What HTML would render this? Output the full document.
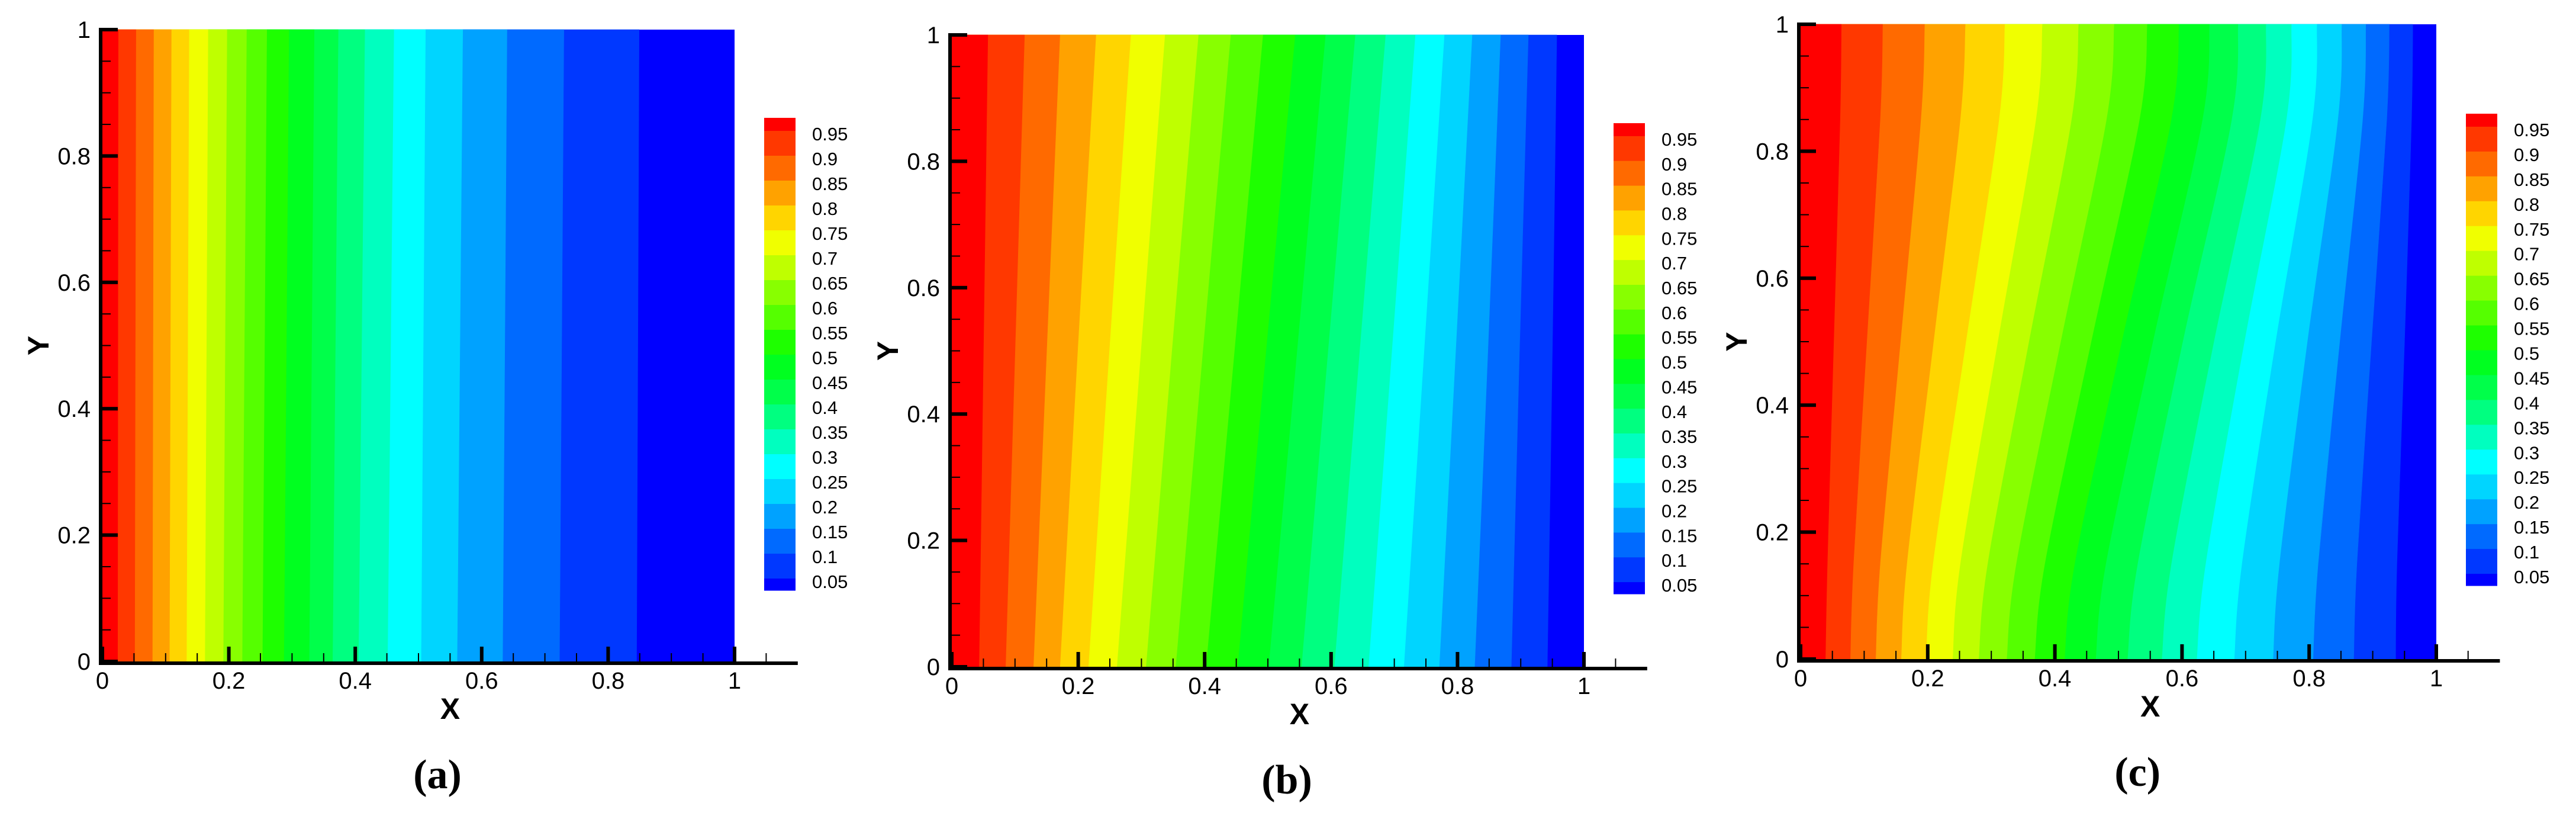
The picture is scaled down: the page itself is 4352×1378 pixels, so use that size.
<!DOCTYPE html>
<html><head><meta charset="utf-8">
<style>
html,body{margin:0;padding:0;background:#fff;}
svg{display:block;}
text{font-family:"Liberation Sans",sans-serif;}
</style></head>
<body>
<svg id="fig" width="4352" height="1378" viewBox="0 0 4352 1378" xmlns="http://www.w3.org/2000/svg"></svg>
<script>
// ---- data ----
const levelLabels = ["0.95","0.9","0.85","0.8","0.75","0.7","0.65","0.6","0.55","0.5","0.45","0.4","0.35","0.3","0.25","0.2","0.15","0.1","0.05"];
const bandColors = ["#ff0000","#ff3800","#ff6a00","#ffa200","#ffd500","#f0ff00","#bfff00","#88ff00","#55ff00","#1eff00","#00ff20","#00ff4a","#00ff80","#00ffbf","#00ffff","#00d5ff","#00a2ff","#006aff","#0038ff","#0000ff"];
const xTicks = [0,0.2,0.4,0.6,0.8,1];
const xTickLabels = ["0","0.2","0.4","0.6","0.8","1"];
const yTicks = [0,0.2,0.4,0.6,0.8,1];
const yTickLabels = ["0","0.2","0.4","0.6","0.8","1"];

// panel (a): contour boundary x positions at given y stations
const aY = [0,1];
const aBottom = [.024,.051,.079,.106,.133,.162,.191,.221,.253,.287,.327,.364,.405,.451,.504,.561,.633,.723,.845];
const aTop    = [.025,.053,.081,.109,.137,.167,.197,.228,.260,.295,.335,.373,.415,.461,.511,.570,.640,.730,.849];

// panel (b)
const bY = [0,0.5,1];
const bBottom = [.043,.085,.129,.171,.216,.261,.307,.354,.402,.452,.501,.553,.605,.659,.715,.771,.827,.885,.942];
const bMid    = [.050,.100,.150,.199,.249,.299,.348,.397,.447,.497,.546,.595,.645,.696,.747,.797,.848,.898,.950];
const bTop    = [.057,.115,.171,.228,.283,.337,.390,.441,.492,.543,.591,.638,.686,.733,.779,.823,.868,.912,.957];

// panel (c)
const cY = [0,0.15,0.5,0.85,1];
const cBottom = [.039,.078,.118,.158,.197,.239,.280,.324,.368,.415,.464,.514,.568,.623,.682,.743,.806,.870,.936];
const cLow    = [.042,.083,.125,.167,.208,.251,.294,.339,.384,.431,.480,.530,.583,.637,.694,.753,.814,.875,.938];
const cMid    = [.052,.104,.157,.209,.260,.310,.359,.409,.457,.505,.554,.601,.650,.698,.747,.797,.848,.898,.950];
const cHigh   = [.062,.125,.189,.251,.312,.370,.426,.481,.533,.583,.632,.678,.723,.764,.805,.845,.884,.922,.961];
const cTop    = [.064,.129,.195,.259,.321,.380,.437,.493,.545,.595,.643,.688,.732,.772,.812,.851,.889,.926,.963];

const panels = [
 {id:"a", L:173, T:50, W:1068, H:1067, cbX:1291, cbY:199, cbH:798, ys:aY, rows:[aBottom,aTop]},
 {id:"b", L:1608, T:59, W:1068, H:1067, cbX:2726, cbY:208, cbH:795, ys:bY, rows:[bBottom,bMid,bTop]},
 {id:"c", L:3042, T:41, W:1074, H:1072, cbX:4166, cbY:192, cbH:797, ys:cY, rows:[cBottom,cLow,cMid,cHigh,cTop]}
];

const NS = "http://www.w3.org/2000/svg";
const svg = document.getElementById("fig");
function mk(tag, attrs, parent){
  const e = document.createElementNS(NS, tag);
  for (const k in attrs) e.setAttribute(k, attrs[k]);
  parent.appendChild(e);
  return e;
}

panels.forEach(p => {
  const sx = v => p.L + v*p.W;
  const sy = v => p.T + p.H - v*p.H;
  const g = mk("g", {}, svg);
  
  

  const bg = mk("rect", {x:sx(0), y:sy(1), width:p.W, height:p.H, fill:bandColors[19]}, g);
  
  

  for (let i = 18; i >= 0; i--) {
    const pts = p.ys.map((yv, j) => [sx(p.rows[j][i]), sy(yv)]);
    let d = "M" + sx(0) + "," + sy(0) + " L" + pts[0][0] + "," + pts[0][1];
    for (let k = 0; k < pts.length - 1; k++) {
      const p0 = pts[Math.max(k-1,0)], p1 = pts[k], p2 = pts[k+1], p3 = pts[Math.min(k+2, pts.length-1)];
      const c1 = [p1[0] + (p2[0]-p0[0])/6, p1[1] + (p2[1]-p0[1])/6];
      const c2 = [p2[0] - (p3[0]-p1[0])/6, p2[1] - (p3[1]-p1[1])/6];
      d += " C" + c1[0] + "," + c1[1] + " " + c2[0] + "," + c2[1] + " " + p2[0] + "," + p2[1];
    }
    d += " L" + sx(0) + "," + sy(1) + " Z";
    const band = mk("path", {d:d, fill:bandColors[i], stroke:bandColors[i], "stroke-width":0.6}, g);
    
    
  }

  const xAxis = mk("rect", {x:p.L-6, y:sy(0), width:1.1*p.W+6, height:6, fill:"#000"}, g);
  
  
  const yAxis = mk("rect", {x:p.L-6, y:sy(1)-3, width:6, height:p.H+9, fill:"#000"}, g);
  
  

  for (let k = 1; k <= 21; k++) {
    const v = k*0.05;
    if (k % 4 === 0) continue;
    const t = mk("rect", {x:sx(v)-1, y:sy(0)-14, width:2, height:14, fill:"#000"}, g);
    
    
  }
  for (let k = 1; k < 20; k++) {
    if (k % 4 === 0) continue;
    const v = k*0.05;
    const t = mk("rect", {x:p.L, y:sy(v)-1, width:14, height:2, fill:"#000"}, g);
    
    
  }
  xTicks.forEach((v, k) => {
    const t = mk("rect", {x:sx(v)-3, y:sy(0)-25, width:6, height:25, fill:"#000"}, g);
    
    
    const tx = mk("text", {x:sx(v), y:sy(0)+46, "font-size":40, "text-anchor":"middle", fill:"#000"}, g);
    tx.textContent = xTickLabels[k];
    
    
  });
  yTicks.forEach((v, k) => {
    const t = mk("rect", {x:p.L, y:sy(v)-3, width:26, height:6, fill:"#000"}, g);
    
    
    const tx = mk("text", {x:p.L-20, y:sy(v)+14, "font-size":40, "text-anchor":"end", fill:"#000"}, g);
    tx.textContent = yTickLabels[k];
    
    
  });

  const xt = mk("text", {x:sx(0.55), y:sy(0)+97, "font-size":50, "font-weight":"bold", "text-anchor":"middle", fill:"#000"}, g);
  xt.textContent = "X";
  
  
  const yx = p.L-108, yy = p.T+p.H/2;
  const yt = mk("text", {x:yx, y:yy+17, "font-size":50, "font-weight":"bold", "text-anchor":"middle", fill:"#000", transform:"rotate(-90 "+yx+" "+yy+")"}, g);
  yt.textContent = "Y";
  
  

  const cap = mk("text", {x:sx(0.53), y:sy(0)+214, "font-size":70, "font-weight":"bold", "text-anchor":"middle", fill:"#000", style:"font-family:'Liberation Serif',serif"}, g);
  cap.textContent = "(" + p.id + ")";
  
  

  const cb = mk("g", {}, g);
  
  
  const step = p.cbH / 19;
  const endH = step/2 + 1;
  for (let i = 0; i < 20; i++) {
    let y0, h;
    if (i === 0) { y0 = p.cbY; h = endH; }
    else if (i === 19) { y0 = p.cbY + endH + 18*step; h = p.cbH - (endH + 18*step); }
    else { y0 = p.cbY + endH + (i-1)*step; h = step; }
    const r = mk("rect", {x:p.cbX, y:y0, width:53, height:h+0.5, fill:bandColors[i]}, cb);
    
    
  }
  levelLabels.forEach((lab, i) => {
    const yb = p.cbY + endH + i*step;
    const t = mk("text", {x:p.cbX+81, y:yb+16, "font-size":31, fill:"#000"}, cb);
    t.textContent = lab;
    
    
  });
});
</script>
</body></html>
